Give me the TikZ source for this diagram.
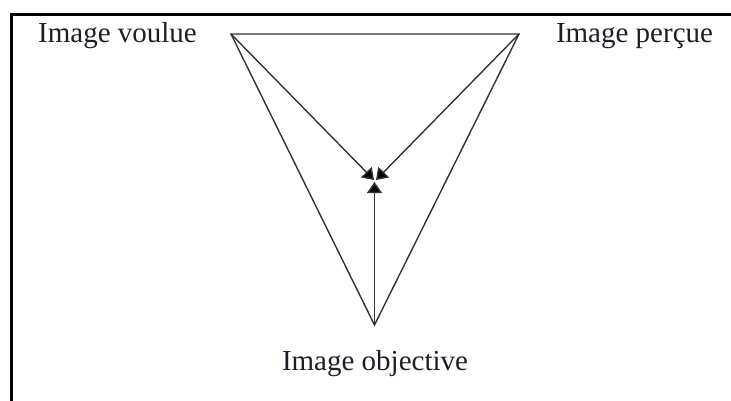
\documentclass[tikz,border=0pt]{standalone}
\usepackage{fontspec}
\setmainfont{Liberation Serif}
\usetikzlibrary{arrows.meta}
\definecolor{txt}{HTML}{1E1E28}
\definecolor{ln}{HTML}{333333}
\begin{document}
\begin{tikzpicture}[x=1pt,y=-1pt,
  lbl/.style={anchor=base,inner sep=0pt,text=txt,font=\fontsize{29}{34}\selectfont},
  edge/.style={draw=ln,line width=1.4pt},
  arr/.style={edge,-{Triangle[length=11pt,width=15pt,fill=black]}},
  frame/.style={draw=black,line width=3pt}]
\useasboundingbox (0,0) rectangle (731,401);
\draw[frame] (11.5,401) -- (11.5,14.5) -- (731,14.5);
\coordinate (A) at (231,34);
\coordinate (B) at (519,34);
\coordinate (C) at (374.5,325);
\coordinate (TL) at (374,180);
\coordinate (TR) at (376,180);
\coordinate (TV) at (374.5,182);
\node[lbl] (voulue) at (117.5,43) {Image voulue};
\node[lbl] (percue) at (634.5,43) {Image perçue};
\node[lbl] (objective) at (375,370) {Image objective};
\draw[edge,line join=miter] (A) -- (B) -- (C) -- cycle;
\draw[arr] (A) -- (TL);
\draw[arr] (B) -- (TR);
\draw[arr] (C) -- (TV);
\end{tikzpicture}
\end{document}
